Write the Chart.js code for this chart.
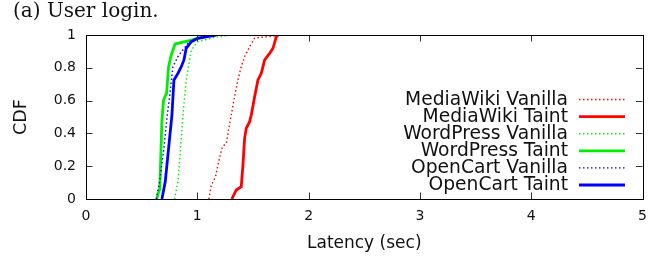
<!DOCTYPE html>
<html>
<head>
<meta charset="utf-8">
<script src="https://cdn.jsdelivr.net/npm/chart.js@4/dist/chart.umd.min.js"></script>
<style>
html,body{margin:0;padding:0;background:#fff;}
#wrap{position:relative;width:661px;height:256px;}
</style>
</head>
<body>
<div id="wrap"><canvas id="c" width="661" height="256"></canvas></div>
<script>
// ---- data ----
const chartTitle = "(a) User login.";
const xAxisTitle = "Latency (sec)";
const yAxisTitle = "CDF";
const xTicks = [0, 1, 2, 3, 4, 5];
const yTicks = [0, 0.2, 0.4, 0.6, 0.8, 1];

const seriesLabels = ["MediaWiki Vanilla", "MediaWiki Taint", "WordPress Vanilla", "WordPress Taint", "OpenCart Vanilla", "OpenCart Taint"];

const mwVanillaX = [1.104, 1.126, 1.164, 1.185, 1.207, 1.225, 1.26, 1.284, 1.305, 1.335, 1.365, 1.395, 1.425, 1.47, 1.515, 1.56, 1.77];
const mwVanillaY = [0, 0.085, 0.136, 0.207, 0.268, 0.319, 0.339, 0.431, 0.512, 0.624, 0.726, 0.807, 0.868, 0.929, 0.98, 0.985, 1.0];

const mwTaintX = [1.31, 1.35, 1.395, 1.41, 1.425, 1.44, 1.47, 1.485, 1.515, 1.545, 1.575, 1.605, 1.65, 1.68, 1.71, 1.725];
const mwTaintY = [0, 0.055, 0.075, 0.207, 0.37, 0.431, 0.471, 0.512, 0.624, 0.726, 0.766, 0.848, 0.888, 0.919, 0.99, 1.0];

const wpVanillaX = [0.796, 0.81, 0.826, 0.85, 0.871, 0.886, 0.901, 0.946, 1.005, 1.15, 1.31];
const wpVanillaY = [0, 0.05, 0.105, 0.309, 0.51, 0.62, 0.726, 0.909, 0.959, 0.985, 1.0];

const wpTaintX = [0.635, 0.66, 0.664, 0.682, 0.697, 0.724, 0.742, 0.766, 0.8, 0.93, 1.0, 1.12];
const wpTaintY = [0, 0.06, 0.085, 0.48, 0.604, 0.644, 0.807, 0.878, 0.945, 0.965, 0.98, 1.0];

const ocVanillaX = [0.632, 0.661, 0.7, 0.73, 0.751, 0.781, 0.826, 0.871, 0.916, 1.0, 1.11];
const ocVanillaY = [0, 0.105, 0.309, 0.512, 0.624, 0.807, 0.868, 0.909, 0.95, 0.985, 1.0];

const ocTaintX = [0.682, 0.712, 0.742, 0.772, 0.79, 0.826, 0.856, 0.88, 0.9, 0.946, 1.005, 1.17];
const ocTaintY = [0, 0.105, 0.309, 0.512, 0.726, 0.766, 0.807, 0.848, 0.919, 0.959, 0.98, 1.0];

// ---- build ----
function pts(xs, ys) { return xs.map((x, i) => ({x: x, y: ys[i]})); }
const seriesData = [
  pts(mwVanillaX, mwVanillaY), pts(mwTaintX, mwTaintY),
  pts(wpVanillaX, wpVanillaY), pts(wpTaintX, wpTaintY),
  pts(ocVanillaX, ocVanillaY), pts(ocTaintX, ocTaintY)
];
const seriesColors = ["#ff0000", "#ff0000", "#00ee00", "#00ee00", "#0000ff", "#0000ff"];
const seriesDotted = [true, false, true, false, true, false];

const datasets = seriesData.map((d, i) => ({
  label: seriesLabels[i],
  data: d,
  showLine: true,
  borderColor: seriesColors[i],
  backgroundColor: seriesColors[i],
  borderWidth: seriesDotted[i] ? 1.4 : 2.8,
  borderDash: seriesDotted[i] ? [1.5, 2.5] : [],
  pointRadius: 0,
  tension: 0,
  fill: false,
  order: seriesLabels.length - i
}));

const PLOT = {left: 86, right: 642.5, top: 35, bottom: 199};

const framePlugin = {
  id: 'frame',
  afterDatasetsDraw(chart) {
    const ctx = chart.ctx;
    const a = chart.chartArea;
    const xs = chart.scales.x, ys = chart.scales.y;
    ctx.save();
    ctx.strokeStyle = '#333';
    ctx.lineWidth = 1;
    const tl = 6.5;
    ctx.beginPath();
    xTicks.forEach(v => {
      const px = Math.round(xs.getPixelForValue(v)) + 0.5;
      if (v > xs.min && v < xs.max) {
        ctx.moveTo(px, a.bottom); ctx.lineTo(px, a.bottom - tl);
        ctx.moveTo(px, a.top); ctx.lineTo(px, a.top + tl);
      }
    });
    yTicks.forEach(v => {
      const py = Math.round(ys.getPixelForValue(v)) + 0.5;
      if (v > ys.min && v < ys.max) {
        ctx.moveTo(a.left, py); ctx.lineTo(a.left + tl, py);
        ctx.moveTo(a.right, py); ctx.lineTo(a.right - tl, py);
      }
    });
    ctx.stroke();
    ctx.strokeStyle = '#000';
    ctx.strokeRect(Math.round(a.left) + 0.5, Math.round(a.top) + 0.5, Math.round(a.right - a.left), Math.round(a.bottom - a.top));

    // legend (right-aligned text, sample line on the right)
    ctx.font = '18.7px "DejaVu Sans"';
    ctx.textAlign = 'right';
    ctx.textBaseline = 'middle';
    chart.data.datasets.forEach((ds, i) => {
      const y = 99.5 + i * 17.1;
      ctx.fillStyle = '#111';
      ctx.fillText(ds.label, 568, y + 0.5);
      ctx.beginPath();
      ctx.strokeStyle = ds.borderColor;
      ctx.lineWidth = ds.borderWidth;
      ctx.setLineDash(ds.borderDash);
      ctx.moveTo(579, y); ctx.lineTo(625, y);
      ctx.stroke();
      ctx.setLineDash([]);
    });

    // chart title
    ctx.font = '20px "DejaVu Serif"';
    ctx.textAlign = 'left';
    ctx.textBaseline = 'middle';
    ctx.fillStyle = '#111';
    ctx.fillText(chartTitle, 13, 12);
    ctx.restore();
  }
};

new Chart(document.getElementById('c'), {
  type: 'scatter',
  data: {datasets: datasets},
  options: {
    responsive: false,
    animation: false,
    devicePixelRatio: 1,
    layout: {padding: {top: PLOT.top, right: 661 - PLOT.right, left: 0, bottom: 0}},
    plugins: {legend: {display: false}, tooltip: {enabled: false}, title: {display: false}},
    scales: {
      x: {
        type: 'linear', min: 0, max: 5,
        afterFit(s) { s.height = 256 - PLOT.bottom; },
        afterBuildTicks(s) { s.ticks = xTicks.map(v => ({value: v})); },
        ticks: {font: {family: 'DejaVu Sans', size: 14}, color: '#111', padding: 9, maxRotation: 0,
                callback: v => String(v)},
        grid: {display: false, drawTicks: false},
        border: {display: false},
        title: {display: true, text: xAxisTitle, font: {family: 'DejaVu Sans', size: 17}, color: '#111',
                padding: {top: 0, bottom: 2.5}}
      },
      y: {
        type: 'linear', min: 0, max: 1,
        afterFit(s) { s.width = PLOT.left; },
        afterBuildTicks(s) { s.ticks = yTicks.map(v => ({value: v})); },
        ticks: {font: {family: 'DejaVu Sans', size: 14}, color: '#111', padding: 10,
                callback: v => String(Math.round(v * 10) / 10)},
        grid: {display: false, drawTicks: false},
        border: {display: false},
        title: {display: true, text: yAxisTitle, font: {family: 'DejaVu Sans', size: 17.5}, color: '#111',
                padding: {top: 10.5, bottom: 0}}
      }
    }
  },
  plugins: [framePlugin]
});
</script>
</body>
</html>
